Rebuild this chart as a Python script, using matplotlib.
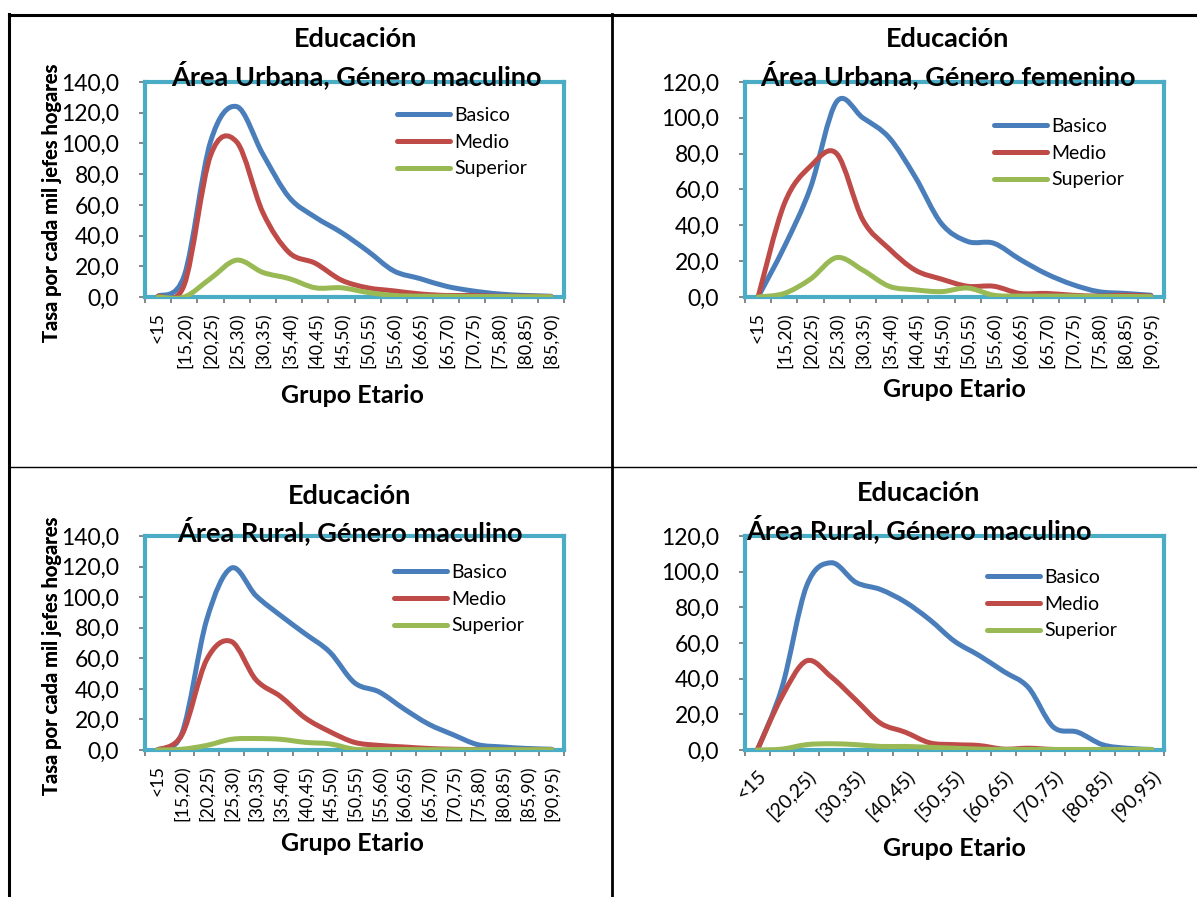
import numpy as np
import matplotlib
matplotlib.use('Agg')
import matplotlib.pyplot as plt
from matplotlib.path import Path
from matplotlib.patches import PathPatch
from matplotlib.lines import Line2D

plt.rcParams['font.family'] = ['Lato', 'DejaVu Sans']

W, H = 1197, 897

series_names = ['Basico', 'Medio', 'Superior']
colors = ['#4A7EBB', '#BE4B48', '#98B954']

# categorias de cada grafico
cats_um = ['<15', '[15,20)', '[20,25)', '[25,30)', '[30,35)', '[35,40)', '[40,45)', '[45,50)',
           '[50,55)', '[55,60)', '[60,65)', '[65,70)', '[70,75)', '[75,80)', '[80,85)', '[85,90)']
cats_uf = ['<15', '[15,20)', '[20,25)', '[25,30)', '[30,35)', '[35,40)', '[40,45)', '[45,50)',
           '[50,55)', '[55,60)', '[60,65)', '[65,70)', '[70,75)', '[75,80)', '[80,85)', '[90,95)']
cats_rm = ['<15', '[15,20)', '[20,25)', '[25,30)', '[30,35)', '[35,40)', '[40,45)', '[45,50)',
           '[50,55)', '[55,60)', '[60,65)', '[65,70)', '[70,75)', '[75,80)', '[80,85)', '[85,90)', '[90,95)']
cats_rm2 = cats_rm

# Area urbana, masculino
um_basico = [0.5, 14, 101, 124, 93, 65, 52, 42, 30, 17, 12, 7, 4, 2, 1, 0.5]
um_medio = [0.5, 8, 92, 101, 55, 29, 22, 11, 6, 4, 2, 1, 1, 0.5, 0.5, 0.3]
um_superior = [0, 0, 12, 24, 16, 12, 6, 6, 3, 1, 0.5, 0.5, 0.3, 0.3, 0.2, 0.2]

# Area urbana, femenino
uf_basico = [0, 28, 61, 109, 100, 89, 67, 41, 31, 30, 21, 13, 7, 3, 2, 1]
uf_medio = [0, 52, 73, 80, 43, 27, 15, 10, 6, 6, 2, 2, 1, 0.5, 1, 0.5]
uf_superior = [0, 2, 10, 22, 15, 6, 4, 3, 5, 1, 0.5, 0.5, 0.5, 0.3, 0.3, 0.2]

# Area rural, masculino
rm_basico = [0, 11, 85, 119, 101, 88, 76, 64, 44, 38, 27, 17, 10, 3.5, 2, 1, 0.5]
rm_medio = [0, 10, 59, 71, 46, 35, 21, 12, 5, 3, 2, 1, 0.5, 0.3, 0.3, 0.2, 0.2]
rm_superior = [0, 0.5, 3, 7, 7.5, 7, 5, 4, 0.5, 0.3, 0.3, 0.2, 0.2, 0.2, 0.2, 0.2, 0.2]

# Area rural, masculino (segundo grafico)
rm2_basico = [0, 35, 92, 105, 94, 90, 83, 73, 61, 53, 44, 35, 13, 10, 3, 1, 0.3]
rm2_medio = [0, 30, 50, 41, 28, 15, 10, 4, 3, 2.5, 0.5, 1, 0.3, 0.2, 0.2, 0.2, 0.2]
rm2_superior = [0, 0.5, 3, 3.5, 3, 2, 2, 1.5, 1, 0.5, 0.3, 0.3, 0.3, 0.3, 0.3, 0.3, 0.3]


def smooth_path(xs, ys):
    # curva suavizada tipo excel (bezier)
    n = len(xs)
    verts = [(xs[0], ys[0])]
    codes = [Path.MOVETO]
    for i in range(n - 1):
        a = i - 1 if i > 0 else i
        d = i + 2 if i + 2 < n else i + 1
        c1 = (xs[i] + (xs[i + 1] - xs[a]) / 6, ys[i] + (ys[i + 1] - ys[a]) / 6)
        c2 = (xs[i + 1] - (xs[d] - xs[i]) / 6, ys[i + 1] - (ys[d] - ys[i]) / 6)
        verts += [c1, c2, (xs[i + 1], ys[i + 1])]
        codes += [Path.CURVE4] * 3
    return Path(verts, codes)


def fx(px):
    return px / W


def fy(py):
    return 1 - py / H


fig = plt.figure(figsize=(W / 100, H / 100), dpi=100)

# bordes de la tabla
lk = dict(color='black', transform=fig.transFigure)
fig.add_artist(Line2D([fx(9), fx(1197)], [fy(15), fy(15)], lw=2.2, **lk))
fig.add_artist(Line2D([fx(9), fx(9)], [fy(14), fy(897)], lw=2.2, **lk))
fig.add_artist(Line2D([fx(612), fx(612)], [fy(14), fy(897)], lw=2.0, **lk))
fig.add_artist(Line2D([fx(9), fx(1197)], [fy(467), fy(467)], lw=1.0, **lk))

panels = [
    dict(cats=cats_um, data=[um_basico, um_medio, um_superior], ymax=140,
         box=(145, 82, 564, 297), t1=(356, 39), t2=(356, 75),
         sub='Área Urbana, Género maculino', leg=(397, 107), xl=(352, 395), rot=90, step=1),
    dict(cats=cats_uf, data=[uf_basico, uf_medio, uf_superior], ymax=120,
         box=(745, 82, 1164, 297), t1=(948, 39), t2=(948, 75),
         sub='Área Urbana, Género femenino', leg=(994, 118), xl=(954, 389), rot=90, step=1),
    dict(cats=cats_rm, data=[rm_basico, rm_medio, rm_superior], ymax=140,
         box=(145, 536, 564, 750), t1=(350, 496), t2=(350, 531),
         sub='Área Rural, Género maculino', leg=(394, 564), xl=(352, 843), rot=90, step=1),
    dict(cats=cats_rm2, data=[rm2_basico, rm2_medio, rm2_superior], ymax=120,
         box=(745, 536, 1164, 750), t1=(919, 493), t2=(919, 529),
         sub='Área Rural, Género maculino', leg=(987, 569), xl=(954, 848), rot=45, step=2),
]

for p in panels:
    x0, y0, x1, y1 = p['box']
    ax = fig.add_axes([fx(x0), fy(y1), (x1 - x0) / W, (y1 - y0) / H])
    n = len(p['cats'])
    idx = np.arange(n)
    ax.set_xlim(-0.5, n - 0.5)
    ax.set_ylim(0, p['ymax'])

    for vals, c in zip(p['data'], colors):
        ax.add_patch(PathPatch(smooth_path(idx, vals), fill=False, edgecolor=c, lw=3.6,
                               capstyle='round', joinstyle='round', zorder=3))

    for s in ax.spines.values():
        s.set_color('#4BACC6')
        s.set_linewidth(3.0)
    ax.axhline(0, color='#868686', lw=1.6, zorder=2)
    ax.axvline(-0.5, color='#868686', lw=1.6, zorder=2)

    yt = np.arange(0, p['ymax'] + 1, 20)
    ax.set_yticks(yt)
    ax.set_yticklabels([f'{v:.1f}'.replace('.', ',') for v in yt], fontsize=16.5)
    ax.tick_params(axis='y', direction='out', length=4.5, width=1.4, color='#868686', pad=14)

    ax.set_xticks(idx)
    if p['rot'] == 90:
        ax.set_xticklabels(p['cats'], rotation=90, fontsize=12.8, va='top', ha='center')
        ax.tick_params(axis='x', length=0, pad=11)
    else:
        labs = [c if i % p['step'] == 0 else '' for i, c in enumerate(p['cats'])]
        ax.set_xticklabels(labs, rotation=45, fontsize=14, ha='right', va='top',
                           rotation_mode='anchor')
        ax.tick_params(axis='x', length=0, pad=12)
    ax.set_xticks(np.arange(n + 1) - 0.5, minor=True)
    ax.tick_params(axis='x', which='minor', direction='out', length=4.5, width=1.4, color='#868686')

    ax.set_ylabel('Tasa por cada mil jefes hogares', fontsize=14.5, fontweight='bold')
    ax.yaxis.set_label_coords((62 - x0) / (x1 - x0), 0.44)

    fig.text(fx(p['t1'][0]), fy(p['t1'][1]), 'Educación', fontsize=19.5, fontweight='bold',
             ha='center', va='center')
    fig.text(fx(p['t2'][0]), fy(p['t2'][1]), p['sub'], fontsize=19.5, fontweight='bold',
             ha='center', va='center')
    fig.text(fx(p['xl'][0]), fy(p['xl'][1]), 'Grupo Etario', fontsize=18, fontweight='bold',
             ha='center', va='center')

    handles = [Line2D([], [], color=c, lw=3.6, solid_capstyle='round') for c in colors]
    ax.legend(handles, series_names, loc='upper left', bbox_to_anchor=(fx(p['leg'][0]), fy(p['leg'][1])),
              bbox_transform=fig.transFigure, frameon=False, fontsize=14, handlelength=2.7,
              handletextpad=0.25, labelspacing=0.5, borderpad=0, borderaxespad=0)

fig.savefig('out.png', dpi=100)
